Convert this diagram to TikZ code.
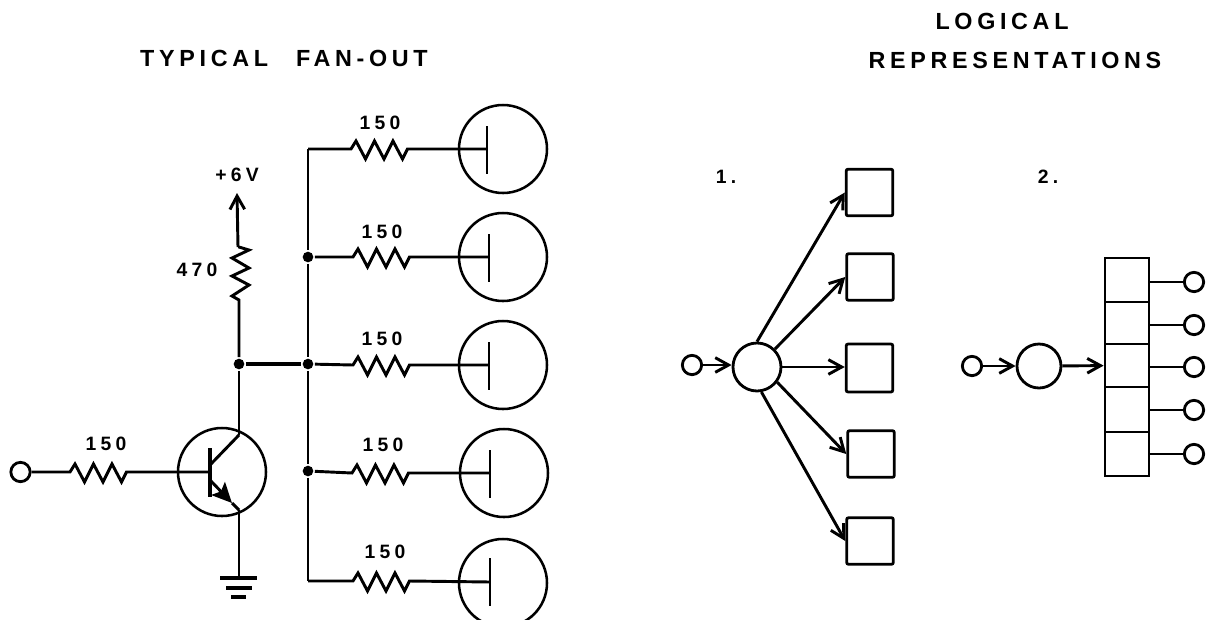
\documentclass[tikz,border=0pt]{standalone}
\usepackage{fontspec}
\setmainfont{Liberation Sans}
\newfontfamily\letterfont[LetterSpace=20]{Liberation Sans Bold}
\newfontfamily\valuefont[LetterSpace=22]{Liberation Sans Bold}
\usetikzlibrary{arrows.meta}

\tikzset{every picture/.style={line width=2.2pt}}
\tikzset{
  termnode/.style={draw,circle,inner sep=0pt,minimum size=14.5pt,fill=white,line width=2.1pt},
  tubenode/.style={draw,circle,inner sep=0pt,minimum size=66pt,line width=1.9pt},
  hubnode/.style={draw,circle,inner sep=0pt,line width=2.1pt},
  flipflop/.style={draw,rectangle,rounded corners=1.5pt,inner sep=0pt,minimum width=35pt,minimum height=35pt,line width=2.1pt},
  cellnode/.style={draw,rectangle,inner sep=0pt,minimum width=33pt,line width=2.1pt},
  dotnode/.style={circle,fill=black,inner sep=0pt,minimum size=8pt},
  titletext/.style={font=\fontsize{17.5}{20}\letterfont},
  valuetext/.style={font=\fontsize{14.5}{16}\valuefont},
  barb/.style={-{Straight Barb[length=10pt,width=11pt,line width=2.2pt]}}
}
% resistor, left to right
\newcommand{\zigH}{-- ++(5,-8) -- ++(9.5,18) -- ++(9,-18) -- ++(9.5,18) -- ++(9,-18) -- ++(9.5,18) -- ++(5,-10)}
% resistor, bottom to top
\newcommand{\zigV}{-- ++(-7,-4) -- ++(17,-11) -- ++(-17,-9) -- ++(17,-8) -- ++(-17,-10) -- ++(17,-8) -- ++(-10,-3)}

\begin{document}
\begin{tikzpicture}[x=0.75pt,y=0.75pt,yscale=-1,xscale=1]
\useasboundingbox (0,0) rectangle (1208,619);

% Text Node
\node (fanouttitle) [titletext] at (284,58) {TYPICAL\hspace{21pt}FAN-OUT};
\node (logtitle) [titletext] at (1002,21.5) {LOGICAL};
\node (reptitle) [titletext] at (1015,60) {REPRESENTATIONS};
\node (labelone) [valuetext] at (726,177) {1.};
\node (labeltwo) [valuetext] at (1048,177) {2.};

%Input and transistor
\node (input) [termnode] at (20.5,472) {};
\node (transistor) [tubenode] at (222,472) {};
\coordinate (base) at (210,472);
\coordinate (basetop) at (210,448);
\coordinate (basebot) at (210,497);
\coordinate (collector) at (239,435);
\coordinate (emitter) at (239,510);
\coordinate (emtip) at (232,503);
\coordinate (gnd) at (239,578);
\draw (input) -- (70,472) \zigH -- (base);
\draw [line width=2.4pt] (basetop) -- (basebot);
\draw (210,465) -- (collector);
\draw [-{Stealth[length=15pt,width=14pt,inset=3pt]}] (210,480) -- (emtip);
\draw (emtip) -- (emitter);
\draw (emitter) -- (gnd);
\node (input150) [valuetext] at (106,444) {150};

%Ground
\draw [line width=2.6pt] (220,578) -- (257,578);
\draw [line width=2.6pt] (226,588) -- (252,588);
\draw [line width=2.6pt] (231,597) -- (246,597);

%Supply
\node (collnode) [dotnode] at (239,364) {};
\coordinate (supply) at (237,193);
\draw (collector) -- (collnode);
\draw (collnode) -- (239,300) \zigV -- (238,247);
\draw [barb] (238,247) -- (supply);
\node (supplytext) [valuetext] at (237,174.5) {+6V};
\node (r470) [valuetext] at (197,270) {470};

%Bus
\node (bus2) [dotnode] at (308,257) {};
\node (bus3) [dotnode] at (308,364) {};
\node (bus4) [dotnode] at (308,471) {};
\coordinate (bus1) at (308,149);
\coordinate (bus5) at (308,581);
\draw [line width=2.4pt] (collnode) -- (bus3);
\draw (bus1) -- (bus2) -- (bus3) -- (bus4) -- (bus5);

%Tube 1
\node (tube1) [tubenode] at (503,149) {};
\coordinate (plate1) at (487,149);
\draw (bus1) -- (351,149) \zigH -- (plate1);
\draw (487,126) -- (487,174);
\node (r1) [valuetext] at (380,123) {150};
%Tube 2
\node (tube2) [tubenode] at (503,257) {};
\coordinate (plate2) at (489,257);
\draw (bus2) -- (353,257) \zigH -- (plate2);
\draw (489,234) -- (489,282);
\node (r2) [valuetext] at (382,232) {150};
%Tube 3
\node (tube3) [tubenode] at (503,365) {};
\coordinate (plate3) at (489,365);
\draw (bus3) -- (353,365) \zigH -- (plate3);
\draw (489,342) -- (489,390);
\node (r3) [valuetext] at (382,339) {150};
%Tube 4
\node (tube4) [tubenode] at (504,473) {};
\coordinate (plate4) at (490,473);
\draw (bus4) -- (352,473) \zigH -- (plate4);
\draw (490,450) -- (490,498);
\node (r4) [valuetext] at (383,445) {150};
%Tube 5
\node (tube5) [tubenode] at (503,583) {};
\coordinate (plate5) at (490,582);
\draw (bus5) -- (353,581) \zigH -- (plate5);
\draw (490,558) -- (490,606);
\node (r5) [valuetext] at (385,552) {150};

%Representation 1
\node (inone) [termnode] at (692,365) {};
\node (hubone) [hubnode,minimum size=36pt] at (757,367) {};
\node (ffa) [flipflop] at (869.5,192.5) {};
\node (ffb) [flipflop] at (870,277) {};
\node (ffc) [flipflop,minimum height=36pt] at (869.5,368) {};
\node (ffd) [flipflop] at (871,454) {};
\node (ffe) [flipflop] at (870,541) {};
\draw [barb] (inone) -- (hubone.west |- inone);
\draw [barb] (hubone.90) -- (ffa.west);
\draw [barb] (hubone.45) -- (ffb.west);
\draw [barb] (hubone.east) -- (ffc.west |- hubone);
\draw [barb] (hubone.-37) -- (ffd.west);
\draw [barb] (hubone.-80) -- (ffe.west);

%Representation 2
\node (intwo) [termnode] at (972,366) {};
\node (hubtwo) [hubnode,minimum size=33pt] at (1039,366) {};
\node (cella) [cellnode,minimum height=33pt] at (1127,280) {};
\node (cellb) [cellnode,minimum height=31.5pt] at (1127,323) {};
\node (cellc) [cellnode,minimum height=32.25pt] at (1127,365.5) {};
\node (celld) [cellnode,minimum height=33.75pt] at (1127,409.5) {};
\node (celle) [cellnode,minimum height=33pt] at (1127,454) {};
\node (outa) [termnode] at (1194,282) {};
\node (outb) [termnode] at (1194,325) {};
\node (outc) [termnode] at (1194,367) {};
\node (outd) [termnode] at (1194,410) {};
\node (oute) [termnode] at (1194,454) {};
\draw [barb] (intwo) -- (hubtwo);
\draw [barb] (hubtwo) -- (cellc);
\draw (cella.east |- outa) -- (outa);
\draw (cellb.east |- outb) -- (outb);
\draw (cellc.east |- outc) -- (outc);
\draw (celld.east |- outd) -- (outd);
\draw (celle.east |- oute) -- (oute);

\end{tikzpicture}
\end{document}
